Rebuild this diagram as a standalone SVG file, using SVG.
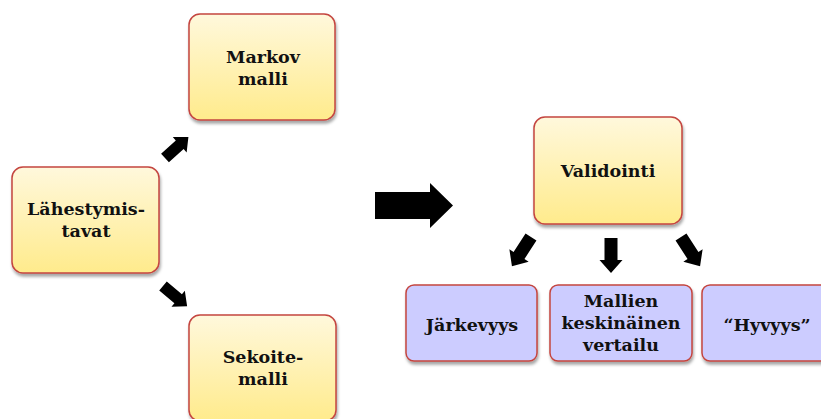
<svg xmlns="http://www.w3.org/2000/svg" width="821" height="419" viewBox="0 0 821 419">
<defs>
<linearGradient id="yel" x1="0" y1="0" x2="0" y2="1">
<stop offset="0" stop-color="#fff8dc"/>
<stop offset="1" stop-color="#ffeb8c"/>
</linearGradient>
<filter id="sh" x="-10%" y="-10%" width="130%" height="130%">
<feDropShadow dx="1" dy="3" stdDeviation="1.8" flood-color="#000" flood-opacity="0.35"/>
</filter>
<path id="arr" d="M0,-6.5 L22,-6.5 L22,-11.5 L35,0 L22,11.5 L22,6.5 L0,6.5 Z"/>
</defs>
<style>
.y{fill:url(#yel);stroke:#c4453f;stroke-width:1.5;filter:url(#sh)}
.p{fill:#ccccff;stroke:#c4453f;stroke-width:1.5;filter:url(#sh)}
text{font-family:"DejaVu Serif","Liberation Serif",serif;font-weight:bold;font-size:17.5px;fill:#111;text-anchor:middle}
.a{fill:#000}
</style>
<rect width="821" height="419" fill="#fff"/>
<g id="connectors" class="a">
<use href="#arr" transform="translate(165,158) rotate(-42) scale(0.9)"/>
<use href="#arr" transform="translate(163,286) rotate(40) scale(0.9)"/>
<path d="M375,192 L430,192 L430,183 L453,205.5 L430,228 L430,219 L375,219 Z"/>
<use href="#arr" transform="translate(531,237) rotate(123)"/>
<use href="#arr" transform="translate(611,238) rotate(90)"/>
<use href="#arr" transform="translate(681,237) rotate(57)"/>
</g>
<g id="markov">
<rect class="y" x="189" y="14" width="146" height="106" rx="11"/>
<text x="263" y="63">Markov</text>
<text x="263" y="85">malli</text>
</g>
<g id="lahestymis">
<rect class="y" x="12" y="167" width="147" height="106" rx="11"/>
<text x="86" y="215">Lähestymis-</text>
<text x="86" y="237">tavat</text>
</g>
<g id="sekoite">
<rect class="y" x="189" y="315" width="147" height="106" rx="11"/>
<text x="263" y="363">Sekoite-</text>
<text x="263" y="385">malli</text>
</g>
<g id="validointi">
<rect class="y" x="534" y="117" width="148" height="107" rx="11"/>
<text x="608" y="177">Validointi</text>
</g>
<g id="jarkevyys">
<rect class="p" x="406" y="285" width="131" height="76" rx="8"/>
<text x="472" y="331">Järkevyys</text>
</g>
<g id="mallien">
<rect class="p" x="550" y="285" width="142" height="76" rx="8"/>
<text x="621" y="307">Mallien</text>
<text x="621" y="329">keskinäinen</text>
<text x="621" y="351">vertailu</text>
</g>
<g id="hyvyys">
<rect class="p" x="702" y="285" width="131" height="76" rx="8"/>
<text x="767" y="331">“Hyvyys”</text>
</g>
</svg>
